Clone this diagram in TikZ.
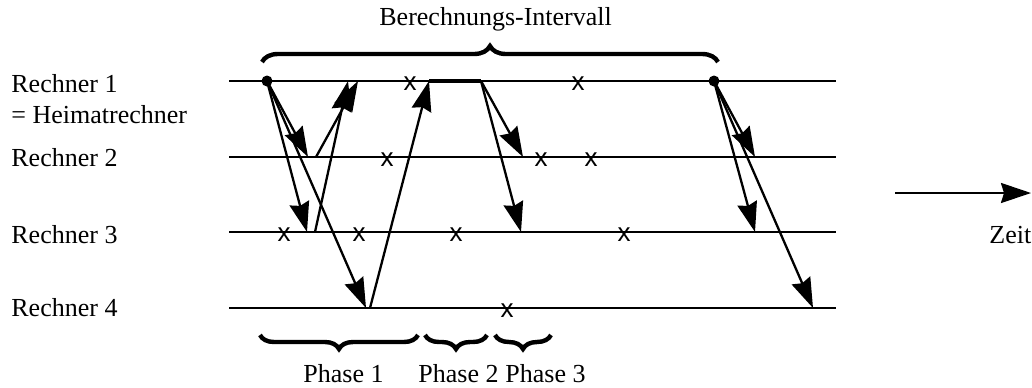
\documentclass[tikz,border=0pt]{standalone}
\usepackage{fontspec}
\setmainfont{Liberation Serif}
\newfontfamily\xfont{Liberation Sans}
\usetikzlibrary{arrows.meta,decorations.pathreplacing}
\begin{document}
\begin{tikzpicture}[x=0.5pt,y=-0.5pt,
  timeline/.style={line width=1.4pt},
  msg/.style={line width=1.15pt,-{Stealth[length=15pt,width=10pt,inset=1.5pt]}},
  lbl/.style={anchor=base west,inner sep=0pt,font=\fontsize{13}{15}\selectfont},
  xmark/.style={inner sep=0pt,font=\xfont\fontsize{13}{15}\selectfont},
  dotmark/.style={circle,fill,inner sep=0pt,minimum size=5.5pt},
  bracedec/.style={decorate,decoration={brace,amplitude=#1},line width=2.2pt}]
\useasboundingbox (0,0) rectangle (1032,387);
% labels
\node[lbl] (l1) at (11,92) {Rechner 1};
\node[lbl] (l1b) at (11,123) {= Heimatrechner};
\node[lbl] (l2) at (11,166) {Rechner 2};
\node[lbl] (l3) at (11,243) {Rechner 3};
\node[lbl] (l4) at (11,316) {Rechner 4};
\node[lbl] (zeit) at (989,243) {Zeit};
\node[lbl] (bi) at (379,25) {Berechnungs-Intervall};
\node[lbl] (p1) at (303,382) {Phase 1};
\node[lbl] (p2) at (418,382) {Phase 2};
\node[lbl] (p3) at (505,382) {Phase 3};
% timelines
\coordinate (r1s) at (229,81);  \coordinate (r1e) at (836,81);
\coordinate (r2s) at (229,157); \coordinate (r2e) at (836,157);
\coordinate (r3s) at (229,232); \coordinate (r3e) at (836,232);
\coordinate (r4s) at (229,308); \coordinate (r4e) at (836,308);
\draw[timeline] (r1s) -- (r1e);
\draw[timeline] (r2s) -- (r2e);
\draw[timeline] (r3s) -- (r3e);
\draw[timeline] (r4s) -- (r4e);
% thick segment
\coordinate (t0) at (429,81); \coordinate (t1) at (481,81);
\draw[line width=2.4pt] (t0) -- (t1);
% dots
\node[dotmark] (d1) at (267,81) {};
\node[dotmark] (d2) at (714,81) {};
% phase 1 messages
\coordinate (a1) at (308,157);
\coordinate (a2) at (307,232);
\coordinate (a3) at (366,308);
\draw[msg] (d1.center) -- (a1);
\draw[msg] (d1.center) -- (a2);
\draw[msg] (d1.center) -- (a3);
\coordinate (b1s) at (316,157); \coordinate (b1e) at (358,81);
\coordinate (b2s) at (315,232); \coordinate (b2e) at (348,81);
\draw[msg] (b1s) -- (b1e);
\draw[msg] (b2s) -- (b2e);
\coordinate (cs) at (370,308);
\draw[msg] (cs) -- (t0);
% phase 3 messages
\coordinate (e1) at (523,157);
\coordinate (e2) at (521,232);
\draw[msg] (t1) -- (e1);
\draw[msg] (t1) -- (e2);
% next interval
\coordinate (f1) at (755,157);
\coordinate (f2) at (755,232);
\coordinate (f3) at (813,308);
\draw[msg] (d2.center) -- (f1);
\draw[msg] (d2.center) -- (f2);
\draw[msg] (d2.center) -- (f3);
% x marks
\node[xmark] (x11) at (410,84) {x};
\node[xmark] (x12) at (578,84) {x};
\node[xmark] (x21) at (387,160) {x};
\node[xmark] (x22) at (541,160) {x};
\node[xmark] (x23) at (591,160) {x};
\node[xmark] (x31) at (284,235) {x};
\node[xmark] (x32) at (359,235) {x};
\node[xmark] (x33) at (456,235) {x};
\node[xmark] (x34) at (624,235) {x};
\node[xmark] (x41) at (507,311) {x};
% braces
\coordinate (bl) at (262,62); \coordinate (br) at (718,62);
\draw[bracedec=8pt] (bl) -- (br);
\coordinate (p1l) at (260,335); \coordinate (p1r) at (418,335);
\coordinate (p2l) at (425,335); \coordinate (p2r) at (487,335);
\coordinate (p3l) at (495,335); \coordinate (p3r) at (551,335);
\draw[bracedec=7pt] (p1r) -- (p1l);
\draw[bracedec=7pt] (p2r) -- (p2l);
\draw[bracedec=7pt] (p3r) -- (p3l);
% time arrow
\coordinate (z0) at (895,193); \coordinate (z1) at (1031,193);
\draw[msg] (z0) -- (z1);
\end{tikzpicture}
\end{document}
